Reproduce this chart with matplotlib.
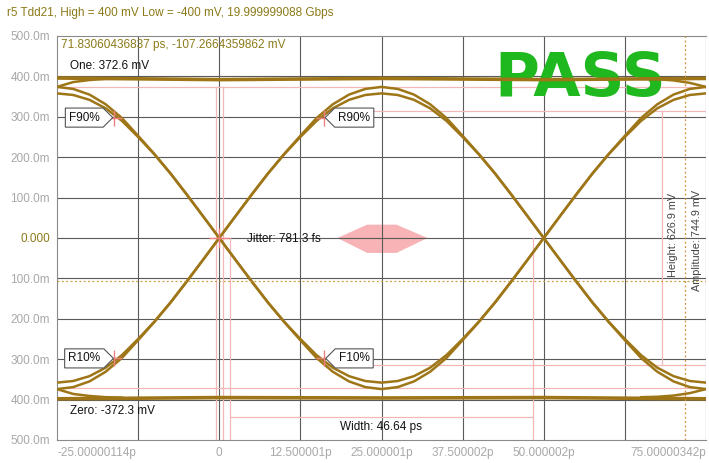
import numpy as np
import matplotlib.pyplot as plt
from matplotlib.path import Path

plt.rcParams['font.family'] = ['Liberation Sans', 'DejaVu Sans']

# ---- data (time in ps, voltage in mV) ----
t_ps = [-25, -22.5, -20, -17.5, -15, -12.5, -10, -7.5, -5, -2.5,
        0, 2.5, 5, 7.5, 10, 12.5, 15, 17.5, 20, 22.5,
        25, 27.5, 30, 32.5, 35, 37.5, 40, 42.5, 45, 47.5,
        50, 52.5, 55, 57.5, 60, 62.5, 65, 67.5, 70, 72.5, 75]

# falling edge at 0 ps, rising edge at 50 ps (outer and inner trace)
fall_outer = [374, 369, 355, 331, 297, 253, 208, 160, 108, 54,
              0, -54, -108, -160, -208, -253, -297, -331, -355, -369,
              -374, -369, -355, -331, -297, -253, -208, -160, -108, -54,
              0, 54, 108, 160, 208, 253, 297, 331, 355, 369, 374]
fall_inner = [358, 354, 342, 321, 290, 250, 207, 159, 107, 54,
              0, -54, -107, -159, -207, -250, -290, -321, -342, -354,
              -358, -354, -342, -321, -290, -250, -207, -159, -107, -54,
              0, 54, 107, 159, 207, 250, 290, 321, 342, 354, 358]
rise_outer = [-v for v in fall_outer]
rise_inner = [-v for v in fall_inner]

# long runs of ones / zeros
flat_t = [-25, 0, 25, 50, 75]
flat_hi = [396, 392, 395, 392, 395]
flat_lo = [-398, -395, -396, -395, -398]

# traces settling from the arc into the flat level at the edges
left_t = [-25, -22.5, -20, -17.5, -15]
left_hi = [374, 386, 391, 394, 395]
right_t = [65, 67.5, 70, 72.5, 75]
right_hi = [394, 393, 390, 384, 374]

# measurements
one_mv = 372.6
zero_mv = -372.3
height_mv = 626.9
width_l, width_r = 1.68, 48.32
cursor_t, cursor_v = 71.83060436837, -107.2664359862
jit_t = [18.2, 22.8, 27.3, 32.1, 27.3, 22.8]
jit_v = [0, 33, 33, 0, -37, -37]

mark_names = ['F90%', 'R90%', 'R10%', 'F10%']
mark_t = [-16.2, 16.2, -16.2, 16.2]
mark_v = [298, 298, -298, -298]

xticks = [-25, -12.5, 0, 12.5, 25, 37.5, 50, 62.5, 75]
xlabels = ['-25.00000114p', '', '0', '12.500001p', '25.000001p',
           '37.500002p', '50.000002p', '', '75.00000342p']
yticks = [500, 400, 300, 200, 100, 0, -100, -200, -300, -400, -500]
ylabels = ['500.0m', '400.0m', '300.0m', '200.0m', '100.0m', '0.000',
           '100.0m', '200.0m', '300.0m', '400.0m', '500.0m']

trace = '#9e7618'
olive = '#8c7a18'
pink = '#f2b8b8'
grey_txt = '#a8a8a8'


def tag(direction):
    # label box with a pointed side, like the scope's marker tags
    def style(x0, y0, width, height, mutation_size):
        pad = 0.3 * mutation_size
        x0, y0 = x0 - pad, y0 - pad
        w, h = width + 2 * pad, height + 2 * pad
        tip = h * 0.5
        if direction == 'right':
            verts = [(x0, y0), (x0 + w, y0), (x0 + w + tip, y0 + h / 2),
                     (x0 + w, y0 + h), (x0, y0 + h), (x0, y0)]
        else:
            verts = [(x0, y0), (x0 + w, y0), (x0 + w, y0 + h),
                     (x0, y0 + h), (x0 - tip, y0 + h / 2), (x0, y0)]
        return Path(verts, closed=True)
    return style


fig = plt.figure(figsize=(7.09, 4.63), dpi=100)
ax = fig.add_axes([57 / 709, 23 / 463, 649 / 709, 404 / 463])
ax.set_xlim(-25, 75)
ax.set_ylim(-500, 500)

# grid
for x in xticks[1:]:
    ax.axvline(x, color='#5a5a5a', lw=0.8, zorder=1.5)
for y in yticks[1:-1]:
    ax.axhline(y, color='#5a5a5a', lw=0.8, zorder=1.5)

# jitter hexagon
ax.fill(jit_t, jit_v, color='#f7b3b6', lw=0, zorder=1)

# pink measurement lines
ax.axhline(one_mv, color=pink, lw=0.9, zorder=2)
ax.axhline(zero_mv, color=pink, lw=0.9, zorder=2)
ax.plot([-0.5, -0.5], [one_mv, -500], color=pink, lw=0.9, zorder=2)
ax.plot([0.6, 0.6], [one_mv, -500], color=pink, lw=0.9, zorder=2)
ax.plot([width_l, width_l], [0, -500], color=pink, lw=0.9, zorder=2)
ax.plot([width_r, width_r], [0, -500], color=pink, lw=0.9, zorder=2)
ax.plot([width_l, width_r], [-443, -443], color=pink, lw=0.9, zorder=2)
ax.plot([16.2, 75], [height_mv / 2, height_mv / 2], color=pink, lw=0.9, zorder=2)
ax.plot([16.2, 75], [-height_mv / 2, -height_mv / 2], color=pink, lw=0.9, zorder=2)
ax.plot([68.2, 68.2], [height_mv / 2, -height_mv / 2], color=pink, lw=0.9, zorder=2)

# PASS stamp (sits under the traces)
ax.text(55.6, 351, 'PASS', color='#1fb81f', fontsize=44, fontweight='bold',
        family='DejaVu Sans', ha='center', va='baseline', zorder=2.5)

# eye traces
ax.plot(flat_t, flat_hi, color=trace, lw=2.6, zorder=3)
ax.plot(flat_t, flat_lo, color=trace, lw=2.6, zorder=3)
ax.plot(t_ps, fall_outer, color=trace, lw=1.8, zorder=3)
ax.plot(t_ps, fall_inner, color=trace, lw=1.8, zorder=3)
ax.plot(t_ps, rise_outer, color=trace, lw=1.8, zorder=3)
ax.plot(t_ps, rise_inner, color=trace, lw=1.8, zorder=3)
ax.plot(left_t, left_hi, color=trace, lw=1.8, zorder=3)
ax.plot(left_t, [-v for v in left_hi], color=trace, lw=1.8, zorder=3)
ax.plot(right_t, right_hi, color=trace, lw=1.8, zorder=3)
ax.plot(right_t, [-v for v in right_hi], color=trace, lw=1.8, zorder=3)

# cursor
ax.axvline(cursor_t, color='#d0903a', lw=0.9, ls=(0, (1.5, 2)), zorder=3.5)
ax.axhline(cursor_v, color='#c8a040', lw=0.9, ls=(0, (1.5, 2)), zorder=3.5)

# 10/90 markers and their tags
ax.plot(mark_t, mark_v, '+', color='#f08080', ms=11, mew=1, zorder=4)
ax.plot([0], [0], '+', color='#f08080', ms=14, mew=1, zorder=4)
for name, t, v in zip(mark_names, mark_t, mark_v):
    side = 'right' if t < 0 else 'left'
    tx = t - 4.6 if t < 0 else t + 4.6
    ax.text(tx, v, name, fontsize=8.5, ha='center', va='center', color='#111111', zorder=5,
            bbox=dict(boxstyle=tag(side), fc='white', ec='#555555', lw=0.8))

# text readouts
ax.text(-24.4, 477, f'{cursor_t} ps, {cursor_v} mV', color=olive, fontsize=8.5,
        ha='left', va='center', zorder=5)
ax.text(-23.0, 425, f'One: {one_mv} mV', color='#111111', fontsize=8.5,
        ha='left', va='center', zorder=5)
ax.text(-23.0, -427, f'Zero: {zero_mv} mV', color='#111111', fontsize=8.5,
        ha='left', va='center', zorder=5)
ax.text(25, -468, f'Width: {width_r - width_l:.2f} ps', color='#111111', fontsize=8.5,
        ha='center', va='center', zorder=5)
ax.text(4.3, -3, 'Jitter: 781.3 fs', color='#111111', fontsize=8.5,
        ha='left', va='center', zorder=5)
ax.text(69.9, 7, f'Height: {height_mv} mV', color='#444444', fontsize=7.8,
        rotation=90, ha='center', va='center', zorder=5)
ax.text(73.6, -7, 'Amplitude: 744.9 mV', color='#444444', fontsize=7.8,
        rotation=90, ha='center', va='center', zorder=5)

# title
fig.text(7 / 709, 1 - 13 / 463, 'r5 Tdd21, High = 400 mV Low = -400 mV, 19.999999088 Gbps',
         color=olive, fontsize=8.5, ha='left', va='center')

# axes styling
ax.set_xticks(xticks)
ax.set_xticklabels(xlabels)
ax.set_yticks(yticks)
ax.set_yticklabels(ylabels)
ax.tick_params(length=0, labelsize=8.5, labelcolor=grey_txt)
ax.tick_params(axis='x', pad=5)
ax.tick_params(axis='y', pad=5)
lbls = ax.get_xticklabels()
lbls[0].set_ha('left')
lbls[-1].set_ha('right')
ax.get_yticklabels()[5].set_color(olive)
for s in ['left', 'bottom', 'top']:
    ax.spines[s].set_color('#8a8a8a')
    ax.spines[s].set_linewidth(0.8)
ax.spines['right'].set_visible(False)

fig.savefig('out.png', dpi=100)
